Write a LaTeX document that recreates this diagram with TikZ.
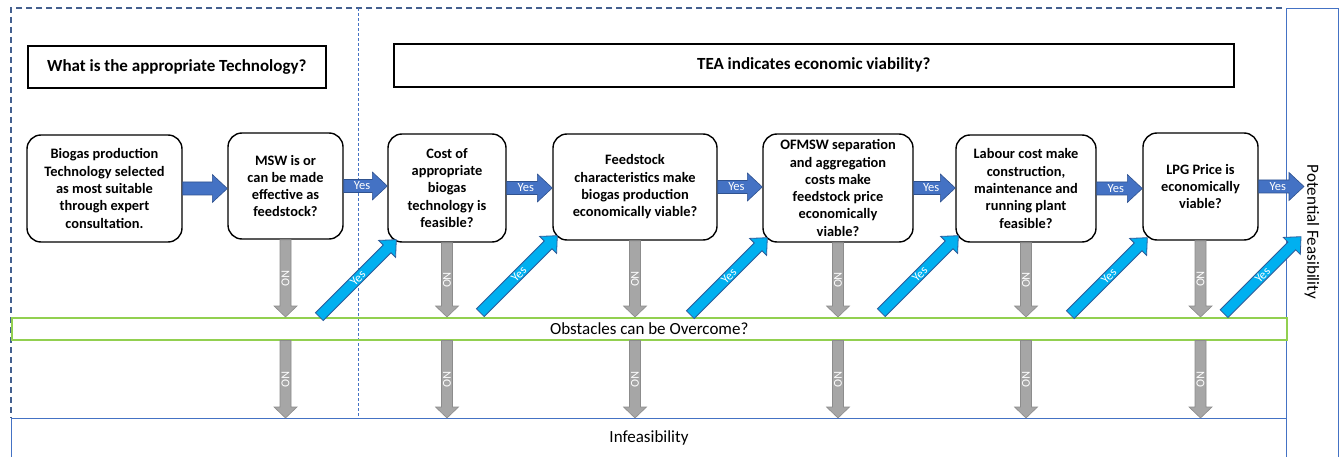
\documentclass[tikz,border=0pt]{standalone}
\usepackage{fontspec}
\setmainfont{Carlito}
\usetikzlibrary{calc}
\definecolor{hblue}{HTML}{4472C4}
\definecolor{hblueb}{HTML}{2F528F}
\definecolor{dblue}{HTML}{00B0F0}
\definecolor{dblueb}{HTML}{2E5C9A}
\definecolor{ngray}{HTML}{A6A6A6}
\definecolor{ngrayb}{HTML}{8C8C8C}
\definecolor{dashc}{HTML}{44608F}
\definecolor{lgreen}{HTML}{92D050}
\definecolor{fblue}{HTML}{4472C4}

% #1 style, #2 from, #3 to, #4 shaft half, #5 head half, #6 head length, #7 label opts, #8 label
\newcommand{\blockarrow}[8]{%
  \coordinate (bah) at ($(#3)!#6!(#2)$);
  \draw[#1] ($(#2)!#4!90:(#3)$) -- ($(bah)!#4!90:(#3)$) -- ($(bah)!#5!90:(#3)$) -- (#3)
     -- ($(bah)!#5!-90:(#3)$) -- ($(bah)!#4!-90:(#3)$) -- ($(#2)!#4!-90:(#3)$) -- cycle;
  \path (#2) -- (#3) node[#7] {#8};
}

\tikzset{
  box/.style={draw, line width=1.4pt, rounded corners=14pt, align=center, inner sep=0pt,
    font=\fontsize{14.4}{17.3}\selectfont\bfseries},
  titlebox/.style={draw, line width=1.6pt, inner sep=0pt, anchor=north west,
    font=\fontsize{17}{20}\selectfont\bfseries},
  harr/.style={fill=hblue, draw=hblueb, line width=0.6pt},
  darr/.style={fill=dblue, draw=dblueb, line width=0.8pt},
  garr/.style={fill=ngray, draw=ngrayb, line width=0.6pt},
  hyes/.style={pos=0.42, text=white, font=\fontsize{12.5}{14}\selectfont},
  dyes/.style={midway, sloped, text=white, font=\fontsize{12.5}{14}\selectfont},
  nolab/.style={midway, rotate=-90, text=white, font=\fontsize{12}{13}\selectfont},
  frame/.style={draw=fblue, line width=1.2pt, inner sep=0pt, anchor=north west},
}

\begin{document}
\begin{tikzpicture}[x=1pt,y=-1pt]
\fill[white] (0,0) rectangle (1343,457);
\useasboundingbox (0,0) rectangle (1343,457);

% frames
\draw[dashc, line width=1.5pt, dash pattern=on 6pt off 4pt] (1282,8) -- (11,8) -- (11,418);
\draw[fblue, line width=0.7pt, dash pattern=on 3pt off 2pt] (358,8) -- (358,418);
\node[frame, minimum width=52pt, minimum height=470pt] (pf) at (1286,8) {};
\node[rotate=-90, font=\fontsize{17}{20}\selectfont] (pft) at (1312,232) {Potential Feasibility};
\node[frame, minimum width=1275pt, minimum height=60pt] (inf) at (11,418) {};
\node[font=\fontsize{17}{20}\selectfont] (inft) at (649,438) {Infeasibility};
\node[frame, draw=lgreen, line width=1.5pt, minimum width=1275pt, minimum height=22pt,
      font=\fontsize{17}{20}\selectfont] (bar) at (11,317) {Obstacles can be Overcome?};

% titles
\node[titlebox, minimum width=298pt, minimum height=42pt] (t1) at (27,45) {What is the appropriate Technology?};
\node[titlebox, minimum width=840pt, minimum height=43pt] (t2) at (393,43) {TEA indicates economic viability?};

% boxes
\node[box, minimum width=155pt, minimum height=107pt] (b1) at (104.5,188.5)
  {Biogas production\\Technology selected\\as most suitable\\through expert\\consultation.};
\node[box, minimum width=115pt, minimum height=106pt] (b2) at (285.5,186)
  {MSW is or\\can be made\\effective as\\feedstock?};
\node[box, minimum width=118pt, minimum height=108pt] (b3) at (447,188)
  {Cost of\\appropriate\\biogas\\technology is\\feasible?};
\node[box, minimum width=164pt, minimum height=106pt] (b4) at (635,187)
  {Feedstock\\characteristics make\\biogas production\\economically viable?};
\node[box, minimum width=150pt, minimum height=108pt] (b5) at (838,188)
  {OFMSW separation\\and aggregation\\costs make\\feedstock price\\economically\\viable?};
\node[box, minimum width=140pt, minimum height=107pt] (b6) at (1026,188.5)
  {Labour cost make\\construction,\\maintenance and\\running plant\\feasible?};
\node[box, minimum width=115pt, minimum height=107pt] (b7) at (1200.5,186.5)
  {LPG Price is\\economically\\viable?};

% horizontal arrows
\coordinate (h1) at (b1.east -| b2.west);
\coordinate (h2) at (b2.east -| b3.west);
\coordinate (h3) at (b3.east -| b4.west);
\coordinate (h4) at (b4.east -| b5.west);
\coordinate (h5) at (b5.east -| b6.west);
\coordinate (h6) at (b6.east -| b7.west);
\coordinate (h7) at ($(b7.east -| pf.west)+(18,0)$);
\blockarrow{harr}{b1.east}{h1}{6.5pt}{14pt}{15pt}{hyes}{}
\blockarrow{harr}{b2.east}{h2}{6.5pt}{14pt}{15pt}{hyes}{Yes}
\blockarrow{harr}{b3.east}{h3}{6.5pt}{14pt}{15pt}{hyes}{Yes}
\blockarrow{harr}{b4.east}{h4}{6.5pt}{14pt}{15pt}{hyes}{Yes}
\blockarrow{harr}{b5.east}{h5}{6.5pt}{14pt}{15pt}{hyes}{Yes}
\blockarrow{harr}{b6.east}{h6}{6.5pt}{14pt}{15pt}{hyes}{Yes}
\blockarrow{harr}{b7.east}{h7}{6.5pt}{14pt}{15pt}{hyes}{Yes}

% NO arrows
\foreach \b in {b2,b3,b4,b5,b6,b7}{
  \coordinate (n\b) at (\b.south |- bar.north);
  \coordinate (m\b) at (\b.south |- bar.south);
  \coordinate (k\b) at (\b.south |- inf.north);
  \blockarrow{garr}{\b.south}{n\b}{5.5pt}{11.5pt}{11pt}{nolab}{NO}
  \blockarrow{garr}{m\b}{k\b}{5.5pt}{11.5pt}{11pt}{nolab}{NO}
}

% diagonal Yes arrows
\coordinate (d1) at ($(b3.south west)+(9,-3)$);
\coordinate (d2) at ($(b4.south west)+(5,-5)$);
\coordinate (d3) at ($(b5.south west)+(5,-5)$);
\coordinate (d4) at ($(b6.south west)+(3,-7)$);
\coordinate (d5) at ($(b7.south west)+(5,-3)$);
\coordinate (d6) at ($(b7.south west -| pf.west)+(15,-4)$);
\foreach \i in {1,...,6}{
  \coordinate (e\i) at ($(d\i)+(-77,77)$);
  \blockarrow{darr}{e\i}{d\i}{5.5pt}{12pt}{13pt}{dyes}{Yes}
}
\end{tikzpicture}
\end{document}
